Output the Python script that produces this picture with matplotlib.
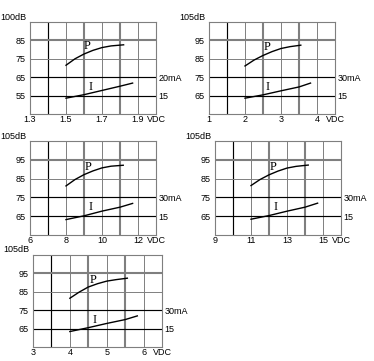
import matplotlib
matplotlib.use("Agg")
import matplotlib.pyplot as plt
import numpy as np

# ---------------- data ----------------
# Panel 1 (1.5 V type)
p1_v = [1.50, 1.55, 1.60, 1.65, 1.70, 1.75, 1.82]
p1_db = [71.5, 75.0, 77.6, 79.6, 81.1, 82.0, 82.6]
i1_v = [1.50, 1.60, 1.70, 1.80, 1.87]
i1_ma = [14.3, 15.25, 16.4, 17.55, 18.4]

# Panel 2 (3 V type)
p2_v = [2.0, 2.25, 2.5, 2.75, 3.0, 3.25, 3.55]
p2_db = [81.1, 84.3, 86.8, 88.9, 90.6, 91.6, 92.4]
i2_v = [2.0, 2.5, 3.0, 3.5, 3.82]
i2_ma = [12.9, 15.6, 18.9, 22.05, 25.2]

# Panel 3 (9 V type)
p3_v = [8.0, 8.5, 9.0, 9.5, 10.0, 10.5, 11.18]
p3_db = [81.1, 84.5, 87.1, 89.1, 90.7, 91.6, 92.1]
i3_v = [8.0, 9.0, 10.0, 11.0, 11.7]
i3_ma = [12.3, 15.3, 19.05, 22.2, 25.2]

# Panel 4 (12 V type)
p4_v = [11.0, 11.5, 12.0, 12.5, 13.0, 13.5, 14.18]
p4_db = [81.3, 84.5, 87.0, 89.0, 90.6, 91.5, 92.2]
i4_v = [11.0, 12.0, 13.0, 14.0, 14.7]
i4_ma = [12.6, 15.5, 19.0, 22.2, 25.4]

# Panel 5 (5 V type)
p5_v = [4.0, 4.25, 4.5, 4.75, 5.0, 5.25, 5.56]
p5_db = [81.5, 84.8, 87.6, 89.4, 90.8, 91.6, 92.4]
i5_v = [4.0, 4.5, 5.0, 5.5, 5.83]
i5_ma = [12.6, 15.75, 19.2, 22.35, 25.35]

x_ticks = [[1.3, 1.5, 1.7, 1.9], [1, 2, 3, 4], [6, 8, 10, 12], [9, 11, 13, 15], [3, 4, 5, 6]]
x_ticklabels = [["1.3", "1.5", "1.7", "1.9"], ["1", "2", "3", "4"], ["6", "8", "10", "12"],
                ["9", "11", "13", "15"], ["3", "4", "5", "6"]]
x_step = [0.1, 0.5, 1.0, 1.0, 0.5]
y_ticks = [[55, 65, 75, 85], [65, 75, 85, 95], [65, 75, 85, 95], [65, 75, 85, 95], [65, 75, 85, 95]]
y_top_label = ["100dB", "105dB", "105dB", "105dB", "105dB"]
ma_ticks = [[15, 20], [15, 30], [15, 30], [15, 30], [15, 30]]
ma_ticklabels = [["15", "20mA"], ["15", "30mA"], ["15", "30mA"], ["15", "30mA"], ["15", "30mA"]]
ma_limits = [(10, 35), (0, 75), (0, 75), (0, 75), (0, 75)]

P_v = [p1_v, p2_v, p3_v, p4_v, p5_v]
P_db = [p1_db, p2_db, p3_db, p4_db, p5_db]
I_v = [i1_v, i2_v, i3_v, i4_v, i5_v]
I_ma = [i1_ma, i2_ma, i3_ma, i4_ma, i5_ma]

# label positions (annotation)
P_lab = [(1.62, 81.8), (2.61, 91.3), (9.25, 91.2), (12.25, 91.2), (4.63, 91.3)]
I_lab = [(1.635, 59.8), (2.63, 69.8), (9.35, 69.9), (12.35, 69.9), (4.68, 69.9)]

# ---------------- layout ----------------
W, H = 374, 361
fig = plt.figure(figsize=(W / 100, H / 100), dpi=100)
rects_px = [(30, 22, 156, 114), (209, 22, 335, 114), (30, 141, 156, 235),
            (215, 141, 341, 235), (33, 255, 162, 347)]

grey = "#7f7f7f"
sans = "Liberation Sans"
serif = "Liberation Serif"
fs = 6.5

for k in range(5):
    l, t, r, b = rects_px[k]
    ax = fig.add_axes([l / W, 1 - b / H, (r - l) / W, (b - t) / H])
    x0 = x_ticks[k][0]
    x1 = x0 + 7 * x_step[k]
    y0 = y_ticks[k][0] - 10
    y1 = y0 + 50
    ax.set_xlim(x0, x1)
    ax.set_ylim(y0, y1)

    # grid
    for j in range(1, 7):
        xv = x0 + j * x_step[k]
        if j == 1:
            ax.axvline(xv, color="black", lw=0.85, zorder=1)
        elif j in (3, 5):
            ax.axvline(xv, color=grey, lw=1.5, zorder=1)
        else:
            ax.axvline(xv, color=grey, lw=0.7, zorder=1)
    for j in range(1, 5):
        yv = y0 + j * 10
        if j == 4:
            ax.axhline(yv, color=grey, lw=1.5, zorder=1)
        elif j in (1, 2):
            ax.axhline(yv, color="black", lw=0.85, zorder=2)
        else:
            ax.axhline(yv, color=grey, lw=0.7, zorder=1)
    for s in ax.spines.values():
        s.set_color(grey)
        s.set_linewidth(0.8)

    ax.set_xticks(x_ticks[k] + [x1])
    ax.set_xticklabels(x_ticklabels[k] + ["VDC"], fontsize=fs, family=sans)
    ax.set_yticks(y_ticks[k])
    ax.set_yticklabels([str(v) for v in y_ticks[k]], fontsize=fs, family=sans)
    ax.tick_params(axis="x", length=0, pad=0.5)
    ax.tick_params(axis="y", length=0, pad=3)
    ax.annotate(y_top_label[k], xy=(0, 1), xycoords="axes fraction", xytext=(-4, 5),
                textcoords="offset pixels", ha="right", va="center", fontsize=fs, family=sans)

    ax.plot(P_v[k], P_db[k], color="black", lw=1.0, zorder=3)
    ax.text(P_lab[k][0], P_lab[k][1], "P", fontsize=9, family=serif, ha="center", va="center", zorder=4)
    ax.text(I_lab[k][0], I_lab[k][1], "I", fontsize=9, family=serif, ha="center", va="center", zorder=4)

    ax2 = ax.twinx()
    ax2.set_ylim(*ma_limits[k])
    ax2.plot(I_v[k], I_ma[k], color="black", lw=1.0, zorder=3)
    ax2.set_yticks(ma_ticks[k])
    ax2.set_yticklabels(ma_ticklabels[k], fontsize=fs, family=sans)
    ax2.tick_params(axis="y", length=0, pad=2)
    for s in ax2.spines.values():
        s.set_visible(False)

fig.savefig("out.png", dpi=100)
